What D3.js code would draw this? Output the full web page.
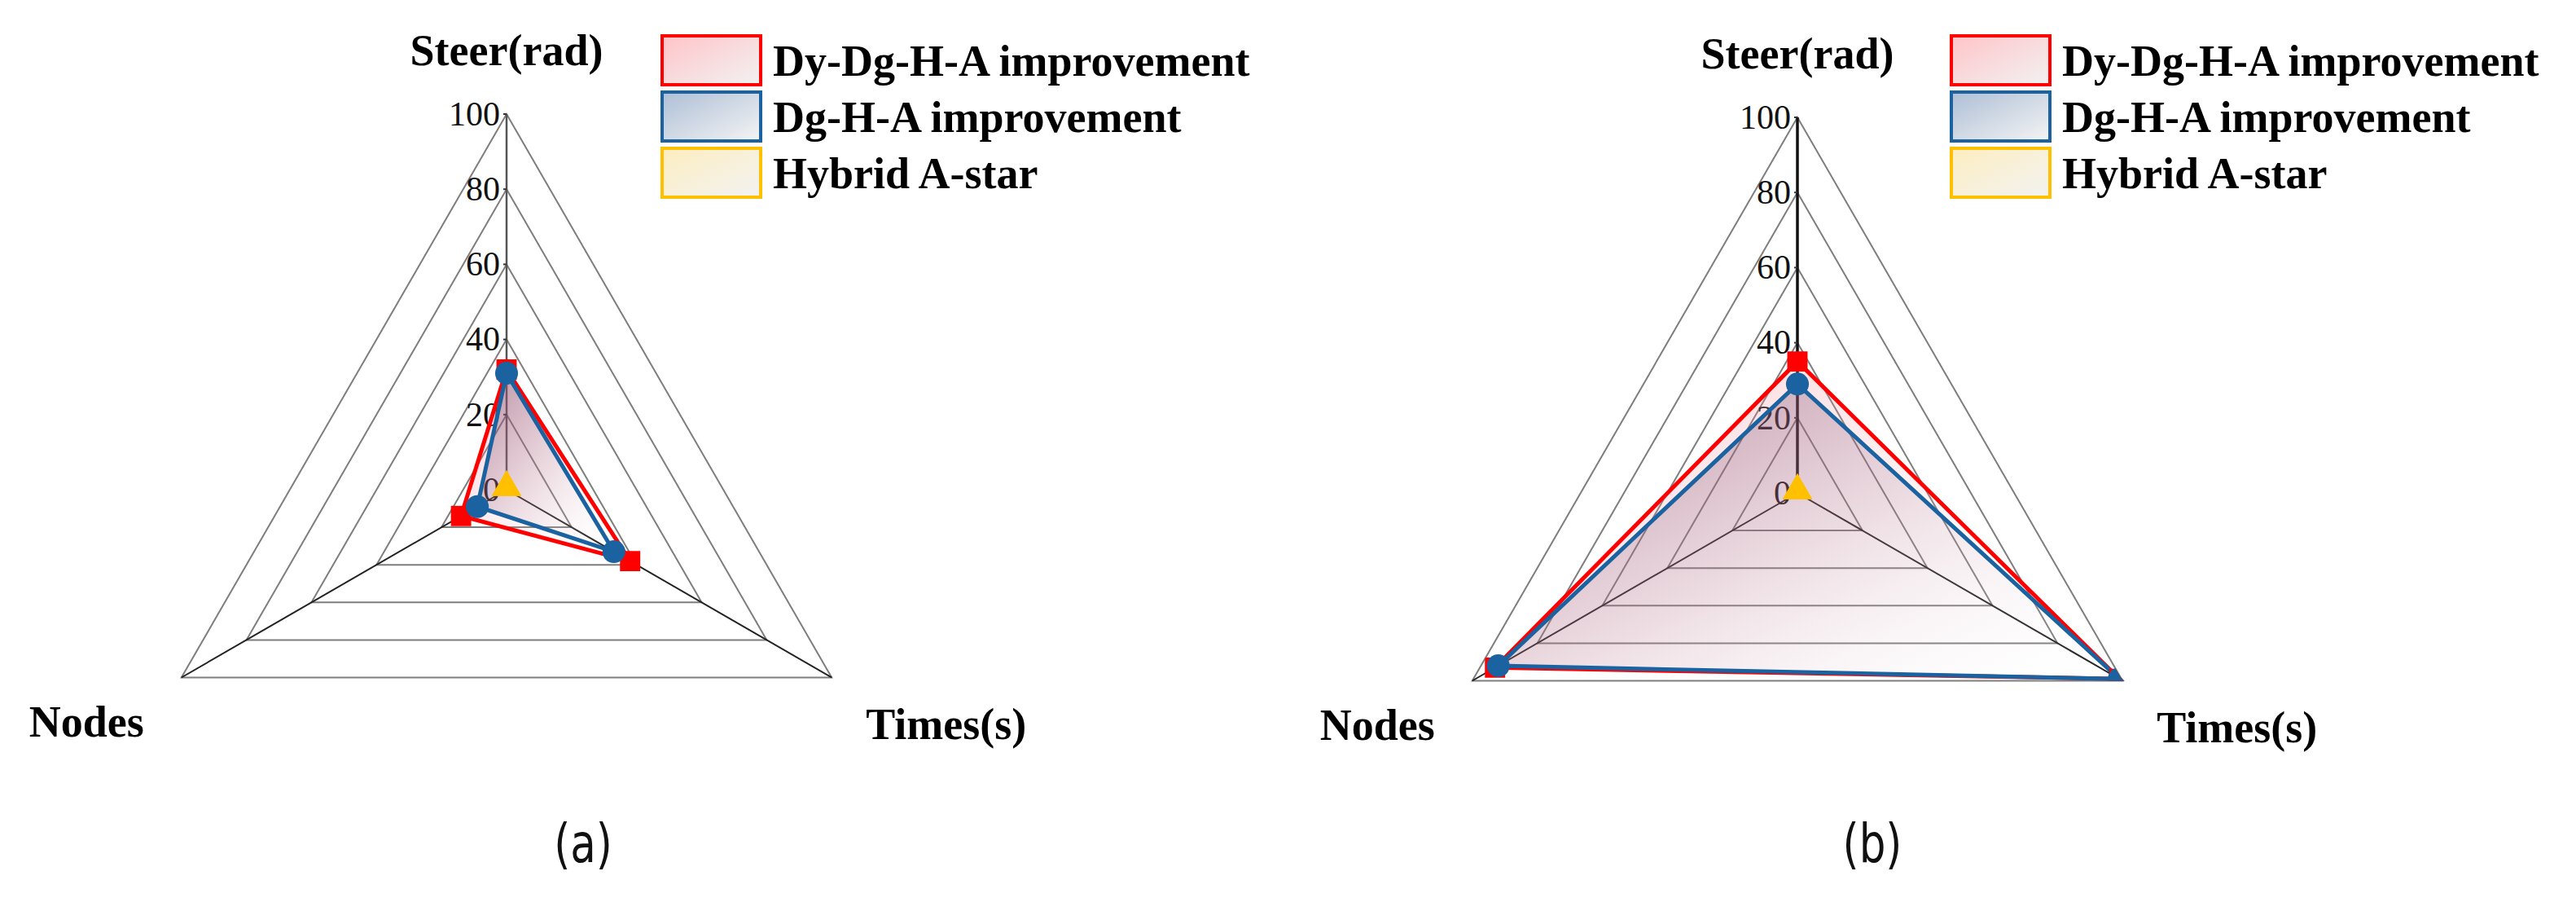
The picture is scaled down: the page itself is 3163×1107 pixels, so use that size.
<!DOCTYPE html>
<html>
<head>
<meta charset="utf-8">
<script src="https://cdn.jsdelivr.net/npm/d3@7"></script>
<style>
  html, body { margin: 0; padding: 0; background: #ffffff; }
  svg { display: block; }
</style>
</head>
<body>
<div id="chart"></div>
<script>
// ---------------- DATA ----------------
const categories = ["Steer(rad)", "Times(s)", "Nodes"];
const seriesNames = ["Dy-Dg-H-A improvement", "Dg-H-A improvement", "Hybrid A-star"];
const tickValues = [0, 20, 40, 60, 80, 100];
const tickLabels = ["0", "20", "40", "60", "80", "100"];
const panelLabels = ["(a)", "(b)"];

// panel (a)
const panelA_DyDgHA = [32, 38, 14];
const panelA_DgHA   = [31, 33, 9];
const panelA_Hybrid = [0, 0, 0];
// panel (b)
const panelB_DyDgHA = [35, 99, 93];
const panelB_DgHA   = [29, 99, 92];
const panelB_Hybrid = [0, 0, 0];

// ---------------- SETUP ----------------
const W = 3163, H = 1107;
const svg = d3.select("#chart").append("svg").attr("width", W).attr("height", H);
const defs = svg.append("defs");

const colors = ["#ff0000", "#1a62a0", "#ffc000"];
const R = 461;
const r = d3.scaleLinear().domain([0, 100]).range([0, R]);
// angles for Steer (top), Times (bottom-right), Nodes (bottom-left)
const angles = [-90, 30, 150].map(a => a * Math.PI / 180);

function pt(i, v) { return [r(v) * Math.cos(angles[i]), r(v) * Math.sin(angles[i])]; }

function lg(id, stops, x1="0%", y1="0%", x2="100%", y2="100%") {
  const g = defs.append("linearGradient").attr("id", id)
    .attr("x1", x1).attr("y1", y1).attr("x2", x2).attr("y2", y2);
  stops.forEach(s => g.append("stop").attr("offset", s[0]).attr("stop-color", s[1]).attr("stop-opacity", s[2]));
}
lg("fillRed",  [["0%", "#f27080", 0.32], ["50%", "#f4a0aa", 0.16], ["100%", "#ffffff", 0.0]]);
lg("fillBlue", [["0%", "#5a2a55", 0.42], ["50%", "#7a4a70", 0.14], ["100%", "#ffffff", 0.0]]);
lg("fillYel",  [["0%", "#ffd060", 0.4], ["100%", "#ffffff", 0.0]]);
lg("legRed",  [["0%", "#ffc4c8", 1], ["100%", "#f2f2f2", 1]]);
lg("legBlue", [["0%", "#aebfd6", 1], ["100%", "#f4f4f4", 1]]);
lg("legYel",  [["0%", "#fdeec0", 1], ["100%", "#f2f2f2", 1]]);
const fills = ["url(#fillRed)", "url(#fillBlue)", "url(#fillYel)"];
const legFills = ["url(#legRed)", "url(#legBlue)", "url(#legYel)"];

const line = d3.line().curve(d3.curveLinearClosed);
const fontB = "'Liberation Serif', 'Times New Roman', serif";

const panels = [
  { cx: 622,  cy: 601, data: [panelA_DyDgHA, panelA_DgHA, panelA_Hybrid], label: panelLabels[0], labelX: 716, legX: 813 },
  { cx: 2207, cy: 605, data: [panelB_DyDgHA, panelB_DgHA, panelB_Hybrid], label: panelLabels[1], labelX: 2299, legX: 2396 }
];

panels.forEach((p, pi) => {
  const g = svg.append("g").attr("transform", `translate(${p.cx},${p.cy})`);

  const clipId = "clip" + pi;
  defs.append("clipPath").attr("id", clipId)
    .append("path")
    .attr("transform", `translate(${p.cx},${p.cy})`)
    .attr("d", line(categories.map((c, i) => pt(i, 100))));

  // grid triangles
  tickValues.filter(t => t > 0).forEach(t => {
    g.append("path")
      .attr("d", line(categories.map((c, i) => pt(i, t))))
      .attr("fill", "none")
      .attr("stroke", "#7e7e7e")
      .attr("stroke-width", 2);
  });

  // spokes
  categories.forEach((c, i) => {
    const e = pt(i, 100);
    g.append("line")
      .attr("x1", 0).attr("y1", 0).attr("x2", e[0]).attr("y2", e[1])
      .attr("stroke", i === 0 ? (pi === 0 ? "#555" : "#111") : "#222")
      .attr("stroke-width", i === 0 ? (pi === 0 ? 2.5 : 3.5) : 2);
  });
  tickValues.forEach(t => {
    g.append("line").attr("x1", -4).attr("x2", 0).attr("y1", -r(t)).attr("y2", -r(t))
      .attr("stroke", "#333").attr("stroke-width", 2);
  });

  // tick labels
  tickValues.forEach((t, k) => {
    g.append("text")
      .attr("x", -8).attr("y", -r(t))
      .attr("dy", "0.33em")
      .attr("text-anchor", "end")
      .attr("font-family", fontB)
      .attr("font-size", 42)
      .attr("fill", "#111")
      .text(tickLabels[k]);
  });

  // polygons
  [2, 0, 1].forEach(si => {
    const vals = p.data[si];
    g.append("path")
      .attr("d", line(vals.map((v, i) => pt(i, v))))
      .attr("fill", fills[si])
      .attr("stroke", colors[si])
      .attr("stroke-width", 5)
      .attr("stroke-linejoin", "miter");
  });

  // markers
  const mg = svg.append("g").attr("clip-path", `url(#${clipId})`)
    .append("g").attr("transform", `translate(${p.cx},${p.cy})`);
  p.data[0].forEach((v, i) => {
    const q = pt(i, v);
    mg.append("path").attr("transform", `translate(${q[0]},${q[1]})`)
      .attr("d", d3.symbol(d3.symbolSquare, 620)()).attr("fill", colors[0]);
  });
  p.data[1].forEach((v, i) => {
    const q = pt(i, v);
    mg.append("path").attr("transform", `translate(${q[0]},${q[1]})`)
      .attr("d", d3.symbol(d3.symbolCircle, 620)()).attr("fill", colors[1]);
  });
  p.data[2].forEach((v, i) => {
    const q = pt(i, v);
    mg.append("path").attr("transform", `translate(${q[0]},${q[1] - 3})`)
      .attr("d", d3.symbol(d3.symbolTriangle, 560)()).attr("fill", colors[2]);
  });

  // category labels
  const top = pt(0, 100), br = pt(1, 100), bl = pt(2, 100);
  g.append("text").attr("x", top[0]).attr("y", -521)
    .attr("text-anchor", "middle").attr("font-family", fontB).attr("font-weight", "bold")
    .attr("font-size", 54).attr("fill", "#000").text(categories[0]);
  g.append("text").attr("x", br[0] + 42).attr("y", br[1] + 75)
    .attr("text-anchor", "start").attr("font-family", fontB).attr("font-weight", "bold")
    .attr("font-size", 54).attr("fill", "#000").text(categories[1]);
  g.append("text").attr("x", bl[0] - 46).attr("y", bl[1] + 72)
    .attr("text-anchor", "end").attr("font-family", fontB).attr("font-weight", "bold")
    .attr("font-size", 54).attr("fill", "#000").text(categories[2]);

  // legend
  seriesNames.forEach((name, si) => {
    const y = 44 + si * 69;
    svg.append("rect").attr("x", p.legX).attr("y", y).attr("width", 121).attr("height", 60)
      .attr("fill", legFills[si]).attr("stroke", colors[si]).attr("stroke-width", 4);
    svg.append("text").attr("x", p.legX + 136).attr("y", y + 49)
      .attr("font-family", fontB).attr("font-weight", "bold").attr("font-size", 54)
      .attr("fill", "#000").text(name);
  });

  // panel label
  svg.append("text").attr("x", p.labelX).attr("y", 1058)
    .attr("text-anchor", "middle")
    .attr("font-family", "'DejaVu Sans', sans-serif")
    .attr("font-size", 66).attr("fill", "#111")
    .attr("transform", `translate(${p.labelX},0) scale(0.78,1) translate(${-p.labelX},0)`)
    .text(p.label);
});
</script>
</body>
</html>
